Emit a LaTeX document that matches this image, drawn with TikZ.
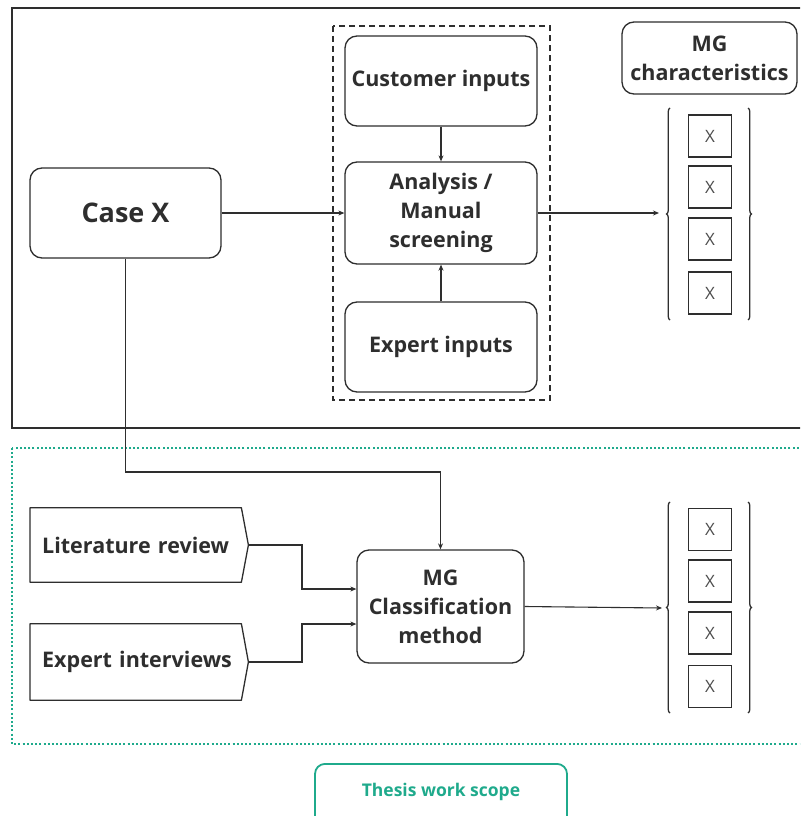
\documentclass[tikz,border=0pt]{standalone}
\usepackage{fontspec}
\setmainfont{Open Sans}
\usetikzlibrary{arrows.meta,decorations.pathreplacing}
\definecolor{ink}{HTML}{2E2E2E}
\definecolor{teal}{HTML}{1FAA8C}
\tikzset{
  rbox/.style={draw=ink, line width=1.3pt, rounded corners=12pt, align=center, inner sep=0pt,
    text=ink, font=\bfseries\fontsize{21.5}{29}\selectfont},
  xbox/.style={draw=ink, line width=1.3pt, minimum width=43pt, minimum height=42pt, inner sep=0pt,
    text=ink!85, font=\fontsize{17}{19}\selectfont},
  conn/.style={draw=ink, line width=1.1pt},
  arr/.style={conn, -{Stealth[length=6pt,width=5pt]}},
  brk/.style={draw=ink, line width=1.3pt, decorate, decoration={brace, amplitude=3.5pt}},
  pent/.style={text=ink, font=\bfseries\fontsize{21.5}{29}\selectfont, inner ysep=0pt, inner xsep=12pt,
    text width=194pt, align=left, anchor=west},
}
\begin{document}
\begin{tikzpicture}[x=1pt,y=-1pt]
\clip (0,0) rectangle (800,816);
\fill[white] (0,0) rectangle (800,816);
% frames
\draw[ink, line width=1.3pt] (12,8) rectangle (815,428);
\draw[teal, line width=2pt, dash pattern=on 2pt off 2.2pt] (12,448) rectangle (815,744);
\draw[ink, line width=1.3pt, dash pattern=on 6pt off 4pt] (333,26) rectangle (550,400);
% nodes top
\node[rbox, minimum width=191pt, minimum height=90pt, font=\bfseries\fontsize{27}{30}\selectfont] (casex) at (125.5,213) {Case X};
\node[rbox, minimum width=192pt, minimum height=90pt] (cust) at (441,81) {Customer inputs};
\node[rbox, minimum width=192pt, minimum height=102pt] (anal) at (441,213) {Analysis /\\Manual\\screening};
\node[rbox, minimum width=192pt, minimum height=90pt] (expi) at (441,347) {Expert inputs};
\node[rbox, minimum width=175pt, minimum height=72pt] (mgch) at (709.5,58) {MG\\characteristics};
% top X boxes
\node[xbox] (t1) at (710,136) {X};
\node[xbox] (t2) at (710,187) {X};
\node[xbox] (t3) at (710,239) {X};
\node[xbox] (t4) at (710,293) {X};
\draw[brk] (670,320) -- (670,108);
\draw[brk] (748,108) -- (748,320);
\coordinate (tin) at (659,213);
% bottom
\node[rbox, minimum width=167pt, minimum height=113pt] (mgcl) at (440.5,606.5) {MG\\Classification\\method};
\node[pent, minimum height=74pt] (lit) at (30,545) {Literature review};
\draw[ink, line width=1.3pt, line join=round] (lit.north west) -- ([xshift=-7pt]lit.north east) -- (lit.east) -- ([xshift=-7pt]lit.south east) -- (lit.south west) -- cycle;
\node[pent, minimum height=76pt] (expv) at (30,662) {Expert interviews};
\draw[ink, line width=1.3pt, line join=round] (expv.north west) -- ([xshift=-7pt]expv.north east) -- (expv.east) -- ([xshift=-7pt]expv.south east) -- (expv.south west) -- cycle;
\node[xbox] (b1) at (710,529.5) {X};
\node[xbox] (b2) at (710,581) {X};
\node[xbox] (b3) at (710,633) {X};
\node[xbox] (b4) at (710,686.5) {X};
\draw[brk] (670,713) -- (670,502);
\draw[brk] (748,502) -- (748,713);
\coordinate (bin) at (662,608);
% thesis scope
\node[draw=teal, line width=1.8pt, rounded corners=10pt, minimum width=252pt, minimum height=70pt, anchor=north] (scope) at (441,763) {};
\node[text=teal, font=\bfseries\fontsize{17.5}{20}\selectfont] (scopet) at (441,792) {Thesis work scope};
% connectors
\draw[arr] (casex.east) -- (anal.west);
\draw[arr] (cust.south) -- (anal.north);
\draw[arr] (expi.north) -- (anal.south);
\draw[arr] (anal.east) -- (tin);
\coordinate (jc) at (125.5,472);
\draw[arr] (casex.south) -- (jc) -| (mgcl.north);
\coordinate (jl) at (302,545);
\coordinate (je) at (302,662);
\draw[arr] (lit.east) -- (jl) |- ([yshift=17.5pt]mgcl.west);
\draw[arr] (expv.east) -- (je) |- ([yshift=-17.5pt]mgcl.west);
\draw[arr] (mgcl.east) -- (bin);
\end{tikzpicture}
\end{document}
